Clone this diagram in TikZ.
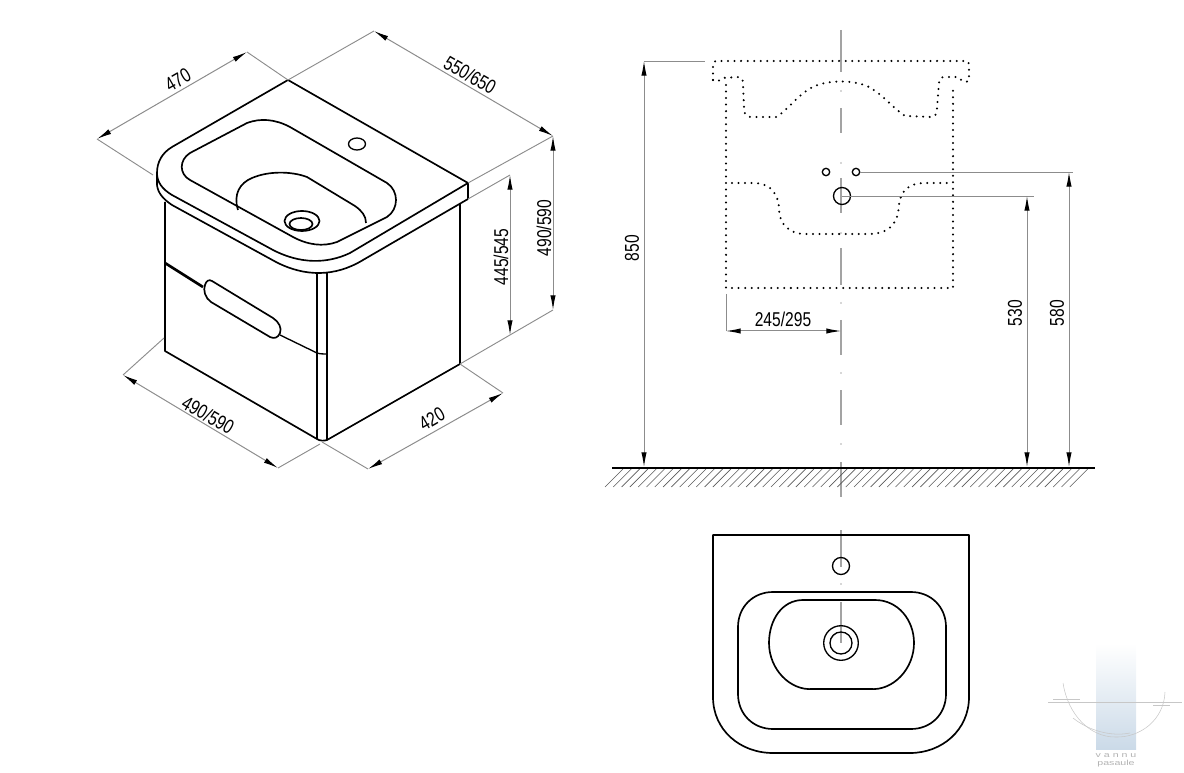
\documentclass[tikz,border=0pt]{standalone}
\usepackage{graphicx}
\usepackage{fontspec}
\setmainfont{Liberation Sans}
\usetikzlibrary{arrows.meta}

\definecolor{dimgrey}{HTML}{8C8C8C}
\definecolor{markblue}{HTML}{CBDAE8}
\newcommand{\dimtext}[1]{\scalebox{0.78}[1]{#1}}
\newcommand{\marktxt}[1]{\scalebox{1.45}[1]{#1}}
\tikzset{
    outline/.style={draw=black, line width=1.25pt, line join=round},
    thinout/.style={draw=black, line width=1pt},
    dimline/.style={draw=dimgrey, line width=0.75pt, {Latex[black,length=11pt,width=4pt]}-{Latex[black,length=11pt,width=4pt]}},
    dimext/.style={draw=dimgrey, line width=0.7pt},
    axisline/.style={draw=dimgrey!80, line width=0.8pt},
    axisdot/.style={draw=dimgrey!35, line width=0.8pt},
    dotline/.style={draw=black, line width=1.7pt, line cap=round, dash pattern=on 0pt off 4.9pt},
    dimlabel/.style={inner sep=0pt, font=\fontsize{15}{18}\selectfont},
    marktext/.style={inner sep=0pt, text=black!30, font=\fontsize{5.5}{6}\selectfont},
    markline/.style={draw=black!22, line width=0.4pt}
}

\begin{document}
\begin{tikzpicture}[x=0.75pt, y=-0.75pt]
    \useasboundingbox (0,0) rectangle (1184,773);

    % Cabinet corners
    \coordinate (topback) at (288,80);
    \coordinate (topright) at (468,183);
    \coordinate (rimright) at (468,199);
    \coordinate (footleft) at (165,351);
    \coordinate (footfront) at (327,440);
    \coordinate (footright) at (460,364);

    % Basin rim
    \draw[outline] (topback) -- (172,147) .. controls (162,153) and (157,162) .. (157,173)
        .. controls (157,182) and (162,189) .. (172,195) -- (273,250)
        .. controls (300,264) and (327,264) .. (350,253) -- (topright) -- (rimright);
    \draw[outline] (topback) -- (topright);
    \draw[outline] (157,173) -- (157,185) .. controls (158,193) and (163,199) .. (172,205) -- (276,262)
        .. controls (305,277) and (335,277) .. (363,260) -- (rimright);

    % Bowl
    \draw[outline] (190,153) -- (247,123) .. controls (260,118) and (275,119) .. (290,127) -- (387,183)
        .. controls (399,191) and (399,209) .. (387,217) -- (337,242)
        .. controls (323,247) and (308,245) .. (293,237) -- (190,180)
        .. controls (179,174) and (179,160) .. (190,153);
    \draw[outline] (238,210) .. controls (233,194) and (240,183) .. (252,178)
        .. controls (268,171) and (291,171) .. (307,177) -- (355,206)
        .. controls (362,211) and (366,216) .. (366,223);
    \draw[outline] (302,221) ellipse (17.5 and 10);
    \draw[outline] (301,224) ellipse (11.5 and 6);
    \draw[thinout] (357,144) ellipse (8.5 and 6);

    % Cabinet body
    \draw[outline] (165,202) -- (footleft) -- (317,439) .. controls (320,441) and (324,441) .. (footfront) -- (footright) -- (460,204);
    \draw[thinout] (317,274) -- (317,439);
    \draw[outline] (327,273) -- (footfront);

    % Drawer gap and handle
    \draw[draw=black, line width=2pt] (165,263) -- (203,287);
    \draw[outline] (212,281) -- (273,318) .. controls (279,322) and (282,328) .. (280,333)
        .. controls (278,338) and (274,339) .. (270,337) -- (211,302)
        .. controls (205,298) and (203,290) .. (205,285) .. controls (206,281) and (209,279) .. (212,281);
    \draw[thinout] (280,335) -- (317,353) .. controls (320,354) and (324,354) .. (327,354);

    % Dimensions, cabinet
    \coordinate (widthA) at (97,139);
    \coordinate (widthB) at (247,52);
    \draw[dimext] (widthA) -- (153,175);
    \draw[dimext] (widthB) -- (topback);
    \draw[dimline] (widthA) -- (widthB);
    \node[dimlabel, rotate=30] (lblwidth) at (178,80) {\dimtext{470}};

    \coordinate (lengthA) at (374,31);
    \coordinate (lengthB) at (553,136);
    \draw[dimext] (topback) -- (lengthA);
    \draw[dimext] (topright) -- (lengthB);
    \draw[dimline] (lengthA) -- (lengthB);
    \node[dimlabel, rotate=-30] (lbllength) at (470,75) {\dimtext{550/650}};

    \coordinate (highA) at (553,310);
    \coordinate (lowA) at (510,175);
    \coordinate (lowB) at (510,335);
    \draw[dimext] (rimright) -- (lowA);
    \draw[dimext] (footright) -- (highA);
    \draw[dimline] (lengthB) -- (highA);
    \draw[dimline] (lowA) -- (lowB);
    \node[dimlabel, rotate=90] (lblhigh) at (544,228) {\dimtext{490/590}};
    \node[dimlabel, rotate=90] (lbllow) at (501,257) {\dimtext{445/545}};

    \coordinate (frontA) at (123,375);
    \coordinate (frontB) at (278,468);
    \coordinate (sideA) at (368,469);
    \coordinate (sideB) at (503,393);
    \draw[dimext] (164,338) -- (frontA);
    \draw[dimext] (320,444) -- (frontB);
    \draw[dimext] (322,442) -- (sideA);
    \draw[dimext] (footright) -- (sideB);
    \draw[dimline] (frontA) -- (frontB);
    \draw[dimline] (sideA) -- (sideB);
    \node[dimlabel, rotate=-30] (lblfront) at (208,415) {\dimtext{490/590}};
    \node[dimlabel, rotate=30] (lblside) at (432,419) {\dimtext{420}};

    % Centre line
    \foreach \ya/\yb in {30/72,108/133,178/213,248/285,320/355,390/425,462/497,530/567,602/643}
        \draw[axisline] (841,\ya) -- (841,\yb);
    \foreach \ya in {90,162,232,302,372,443,583}
        \draw[axisdot] (841,\ya) -- (841,\ya+2);

    % Front view, hidden edges
    \draw[dotline] (713,80) -- (713,65) .. controls (713,62) and (714,61) .. (716,61) -- (966,61)
        .. controls (968,61) and (969,62) .. (969,65) -- (969,80);
    \draw[dotline] (713,80) .. controls (716,83) and (719,81) .. (723,78) -- (737,77)
        .. controls (741,77) and (743,79) .. (743,83) -- (744,110)
        .. controls (745,115) and (747,117) .. (751,117) -- (776,117)
        .. controls (786,112) and (800,92) .. (815,86) .. controls (830,80) and (852,80) .. (867,86)
        .. controls (880,92) and (893,108) .. (905,116) -- (932,117)
        .. controls (936,116) and (937,113) .. (937,108) -- (939,83)
        .. controls (939,79) and (941,77) .. (945,77) -- (958,77) .. controls (962,81) and (966,84) .. (969,80);
    \draw[dotline] (726,85) -- (726,288) -- (953,288) -- (953,85);
    \draw[dotline] (732,183) -- (755,183) .. controls (772,184) and (778,195) .. (779,208)
        .. controls (779,225) and (790,234) .. (805,234) -- (868,234)
        .. controls (888,234) and (898,225) .. (899,205)
        .. controls (900,192) and (908,183) .. (925,183) -- (947,183);

    % Wall fixings
    \draw[thinout] (826,172) circle (3.7);
    \draw[thinout] (856,172) circle (3.7);
    \draw[thinout] (842,196) circle (8.5);

    % Dimensions, front view
    \coordinate (floorA) at (644,467);
    \coordinate (floorB) at (1027,467);
    \coordinate (floorC) at (1069,467);
    \draw[dimext] (644,61) -- (705,61);
    \draw[dimline] (644,61) -- (floorA);
    \draw[dimext] (860,172) -- (1073,172);
    \draw[dimline] (1069,172) -- (floorC);
    \draw[dimext] (842,196) -- (1034,196);
    \draw[dimline] (1027,196) -- (floorB);
    \draw[dimext] (726,294) -- (726,331);
    \draw[dimline] (726,331) -- (841,331);
    \node[dimlabel, rotate=90] (lbltotal) at (632,248) {\dimtext{850}};
    \node[dimlabel, rotate=90] (lblwaste) at (1015,313) {\dimtext{530}};
    \node[dimlabel, rotate=90] (lbltap) at (1057,313) {\dimtext{580}};
    \node[dimlabel] (lblcentre) at (783,319) {\dimtext{245/295}};

    % Floor
    \foreach \x in {623,631.3,...,1095}
        \draw[draw=black!65, line width=0.45pt] (\x,469) -- (\x-18,487);
    \draw[draw=black, line width=1.5pt] (612,468) -- (1095,468);

    % Top view
    \draw[outline] (713,535) -- (969,535) -- (969,697) .. controls (969,730) and (942,753) .. (910,753)
        -- (773,753) .. controls (740,753) and (713,730) .. (713,697) -- cycle;
    \draw[outline] (738,627) .. controls (738,607) and (753,592) .. (773,592) -- (911,592)
        .. controls (931,592) and (946,607) .. (946,627) -- (946,694)
        .. controls (946,714) and (931,729) .. (911,729) -- (773,729)
        .. controls (753,729) and (738,714) .. (738,694) -- cycle;
    \draw[outline] (803,600) -- (875,600) .. controls (898,600) and (914,620) .. (914,643)
        .. controls (914,669) and (893,691) .. (870,689) -- (813,689)
        .. controls (790,691) and (769,669) .. (769,643) .. controls (769,620) and (782,600) .. (803,600);
    \draw[thinout] (841,566) circle (8.5);
    \draw[thinout] (841,643) circle (17.3);
    \draw[thinout] (841,643) circle (11);

    % Watermark
    \shade[top color=white, bottom color=markblue] (1096,643) rectangle (1136,749);
    \draw[markline] (1048,702) -- (1182,702);
    \draw[markline] (1053,699) -- (1080,699);
    \draw[markline] (1153,705) -- (1170,705);
    \draw[markline] (1063,683) .. controls (1068,715) and (1090,737) .. (1115,737) .. controls (1140,738) and (1164,720) .. (1165,692);
    \draw[markline] (1073,718) .. controls (1088,730) and (1110,737) .. (1130,733);
    \node[marktext] (markA) at (1116,755.5) {\marktxt{v a n n u}};
    \node[marktext] (markB) at (1116,763.5) {\marktxt{pasaule}};
\end{tikzpicture}
\end{document}
